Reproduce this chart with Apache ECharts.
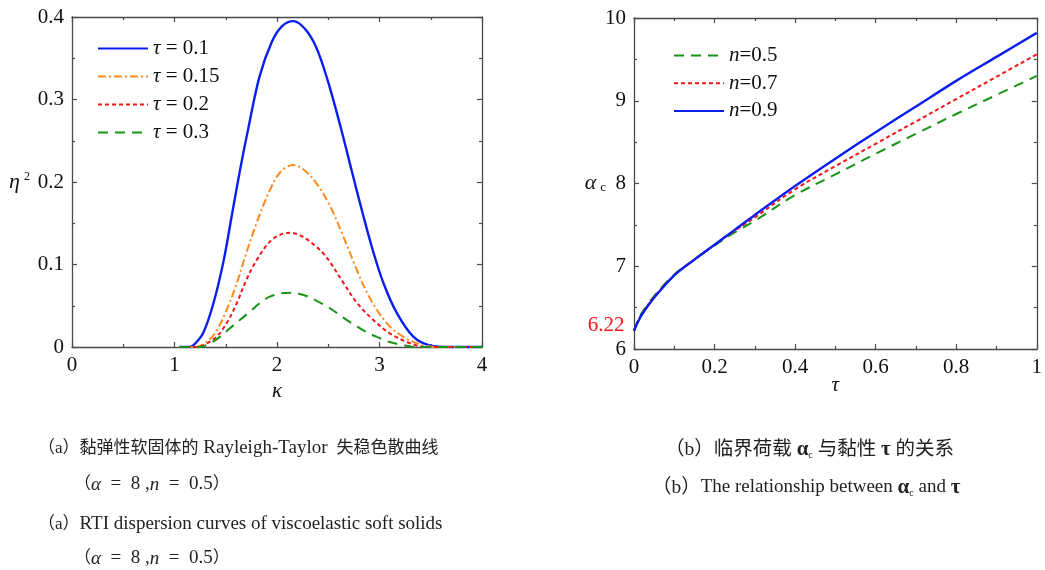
<!DOCTYPE html>
<html>
<head>
<meta charset="utf-8">
<script src="https://cdn.jsdelivr.net/npm/echarts@6/dist/echarts.min.js"></script>
<style>
  html, body { margin: 0; padding: 0; background: #fff; }
  #main { width: 1045px; height: 570px; }
</style>
</head>
<body>
<div id="main"></div>
<script>
// (a) dispersion curves, eta^2 vs kappa
const kappaT010 = [1.05, 1.15, 1.2, 1.28, 1.38, 1.48, 1.56, 1.64, 1.72, 1.83, 1.95, 2.05, 2.16, 2.27, 2.38, 2.49, 2.62, 2.73, 2.84, 2.94, 3.04, 3.17, 3.33, 3.49, 3.7, 4.0];
const eta2T010  = [0, 0, 0.004, 0.017, 0.053, 0.105, 0.16, 0.215, 0.265, 0.328, 0.37, 0.389, 0.395, 0.386, 0.364, 0.325, 0.267, 0.213, 0.16, 0.115, 0.077, 0.041, 0.0125, 0.002, 0, 0];
const kappaT015 = [1.05, 1.2, 1.3, 1.395, 1.509, 1.607, 1.7, 1.8, 1.93, 2.04, 2.16, 2.27, 2.387, 2.517, 2.647, 2.777, 2.907, 3.07, 3.23, 3.43, 3.6, 4.0];
const eta2T015  = [0, 0, 0.005, 0.0166, 0.045, 0.077, 0.1136, 0.15, 0.19, 0.213, 0.2206, 0.214, 0.198, 0.171, 0.134, 0.094, 0.059, 0.029, 0.0125, 0.002, 0, 0];
const kappaT020 = [1.05, 1.2, 1.28, 1.41, 1.509, 1.607, 1.7, 1.8, 1.93, 2.03, 2.127, 2.23, 2.34, 2.45, 2.517, 2.647, 2.777, 2.94, 3.1, 3.3, 3.45, 4.0];
const eta2T020  = [0, 0, 0.002, 0.0125, 0.029, 0.053, 0.081, 0.105, 0.1277, 0.136, 0.1386, 0.135, 0.126, 0.1136, 0.103, 0.078, 0.054, 0.0327, 0.0166, 0.0045, 0, 0];
const kappaT030 = [1.05, 1.25, 1.346, 1.44, 1.54, 1.64, 1.737, 1.83, 1.93, 2.04, 2.143, 2.26, 2.387, 2.517, 2.63, 2.745, 2.86, 2.97, 3.1, 3.23, 3.35, 4.0];
const eta2T030  = [0, 0, 0.0045, 0.012, 0.0226, 0.033, 0.0428, 0.053, 0.061, 0.065, 0.0658, 0.063, 0.056, 0.047, 0.037, 0.0275, 0.019, 0.0125, 0.006, 0.0024, 0, 0];

// (b) critical load alpha_c vs tau
const tauValues = [0, 0.01, 0.02, 0.05, 0.1, 0.15, 0.2, 0.25, 0.3, 0.4, 0.5, 0.6, 0.7, 0.8, 0.9, 1.0];
const alphaN05  = [6.22, 6.35, 6.44, 6.64, 6.90, 7.08, 7.25, 7.41, 7.55, 7.86, 8.11, 8.36, 8.60, 8.84, 9.07, 9.30];
const alphaN07  = [6.22, 6.34, 6.43, 6.63, 6.89, 7.08, 7.26, 7.43, 7.59, 7.93, 8.21, 8.48, 8.75, 9.02, 9.29, 9.56];
const alphaN09  = [6.22, 6.33, 6.42, 6.62, 6.89, 7.08, 7.26, 7.44, 7.62, 7.97, 8.30, 8.62, 8.93, 9.24, 9.53, 9.82];

const leftTicksX = [0, 4, 1];     // min, max, interval
const leftTicksY = [0, 0.4, 0.1];
const rightTicksX = [0, 1, 0.2];
const rightTicksY = [6, 10, 1];

const SERIF = "'Liberation Serif', 'Times New Roman', 'Noto Sans CJK SC', serif";
const BLUE = '#0a1ef0', ORANGE = '#ff8a1c', RED = '#f21717', GREEN = '#179417';
const AXIS = '#4a4a4a';
const EN = '\u2002';

const zip = (xs, ys) => xs.map((x, i) => [x, ys[i]]);

function axis(t, grid, pos, labels) {
  return {
    type: 'value', gridIndex: grid, position: pos,
    min: t[0], max: t[1], interval: t[2],
    axisLine: { onZero: false, lineStyle: { color: AXIS, width: 1.3 } },
    axisTick: { inside: true, length: 5, lineStyle: { color: AXIS, width: 1.2 } },
    minorTick: { show: true, splitNumber: 2, length: 3, lineStyle: { color: AXIS, width: 1.2 } },
    splitLine: { show: false },
    axisLabel: { show: labels, color: '#111', fontSize: 21, fontFamily: SERIF, margin: 8 }
  };
}

function curve(name, data, xi, yi, color, dash, width) {
  return {
    name, type: 'line', data, xAxisIndex: xi, yAxisIndex: yi,
    symbol: 'none', showSymbol: false, smooth: 0.35,
    lineStyle: { color, width: width || 2, type: dash }, itemStyle: { color },
    animation: false
  };
}

const italic = { fontStyle: 'italic', fontFamily: SERIF, fontSize: 21, color: '#111' };

const xNameLeft = axis(leftTicksX, 0, 'bottom', true);
Object.assign(xNameLeft, { name: 'κ', nameLocation: 'middle', nameGap: 34, nameMoveOverlap: false,
  nameTextStyle: { fontStyle: 'italic', fontFamily: SERIF, fontSize: 21, color: '#111' } });
const yNameLeft = axis(leftTicksY, 0, 'left', true);
Object.assign(yNameLeft, { name: '{i|η}{s|2}', nameLocation: 'middle', nameRotate: 0, nameGap: 42, nameMoveOverlap: false,
  nameTextStyle: { rich: {
    i: { fontStyle: 'italic', fontFamily: SERIF, fontSize: 22, color: '#111', lineHeight: 22 },
    s: { fontFamily: SERIF, fontSize: 12, color: '#111', verticalAlign: 'top', lineHeight: 12, padding: [0, 0, 0, 4] } } } });

const xNameRight = axis(rightTicksX, 1, 'bottom', true);
Object.assign(xNameRight, { name: 'τ', nameLocation: 'middle', nameGap: 26, nameMoveOverlap: false,
  nameTextStyle: { fontStyle: 'italic', fontFamily: SERIF, fontSize: 21, color: '#111' } });
const yNameRight = axis(rightTicksY, 1, 'left', true);
Object.assign(yNameRight, { name: '{i|α}{s|c}', nameLocation: 'middle', nameRotate: 0, nameGap: 28, nameMoveOverlap: false,
  nameTextStyle: { rich: {
    i: { fontStyle: 'italic', fontFamily: SERIF, fontSize: 22, color: '#111', lineHeight: 22 },
    s: { fontFamily: SERIF, fontSize: 13, color: '#111', verticalAlign: 'bottom', lineHeight: 12, padding: [0, 0, 0, 4] } } } });

const captionRich = {
  c: { fontFamily: SERIF, fontSize: 17, fill: '#222', lineHeight: 22 },
  cb: { fontFamily: SERIF, fontSize: 19.5, fill: '#222', lineHeight: 22 },
  i: { fontStyle: 'italic', fontFamily: SERIF, fontSize: 19, fill: '#222', lineHeight: 22 },
  g: { fontWeight: 'bold', fontFamily: SERIF, fontSize: 21, fill: '#222', lineHeight: 22 },
  sub: { fontFamily: SERIF, fontSize: 10, fill: '#222', verticalAlign: 'bottom', lineHeight: 12 }
};
function caption(x, y, text) {
  return { type: 'text', left: x, top: y - 11, style: {
    text, fontFamily: SERIF, fontSize: 19, fill: '#222', rich: captionRich } };
}
const paramLine = '{c|（}{i|α}' + EN + '=' + EN + '8 ,{i|n}' + EN + '=' + EN + '0.5{c|）}';

const option = {
  backgroundColor: '#fff',
  animation: false,
  grid: [
    { left: 72, top: 17, width: 410, height: 330 },
    { left: 634, top: 18, width: 409, height: 331 }
  ],
  xAxis: [
    xNameLeft,
    axis(leftTicksX, 0, 'top', false),
    xNameRight,
    axis(rightTicksX, 1, 'top', false)
  ],
  yAxis: [
    yNameLeft,
    axis(leftTicksY, 0, 'right', false),
    yNameRight,
    axis(rightTicksY, 1, 'right', false)
  ],
  legend: [
    {
      data: ['τ = 0.1', 'τ = 0.15', 'τ = 0.2', 'τ = 0.3'],
      orient: 'vertical', left: 97, top: 38, padding: 0,
      itemWidth: 50, itemHeight: 14, itemGap: 7,
      itemStyle: { opacity: 0 },
      textStyle: { fontFamily: SERIF, fontSize: 21, color: '#111', lineHeight: 20, rich: { i: italic } },
      formatter: n => '{i|τ}' + n.slice(1)
    },
    {
      data: ['n=0.5', 'n=0.7', 'n=0.9'],
      orient: 'vertical', left: 673, top: 45, padding: 0,
      itemWidth: 50, itemHeight: 14, itemGap: 6.7,
      itemStyle: { opacity: 0 },
      textStyle: { fontFamily: SERIF, fontSize: 21, color: '#111', lineHeight: 20, rich: { i: italic } },
      formatter: n => '{i|n}' + n.slice(1)
    }
  ],
  series: [
    curve('τ = 0.1', zip(kappaT010, eta2T010), 0, 0, BLUE, 'solid', 2.4),
    curve('τ = 0.15', zip(kappaT015, eta2T015), 0, 0, ORANGE, [8, 3, 2, 3]),
    curve('τ = 0.2', zip(kappaT020, eta2T020), 0, 0, RED, [4, 3]),
    curve('τ = 0.3', zip(kappaT030, eta2T030), 0, 0, GREEN, [10, 7]),
    curve('n=0.5', zip(tauValues, alphaN05), 2, 2, GREEN, [10, 7]),
    curve('n=0.7', zip(tauValues, alphaN07), 2, 2, RED, [4, 3]),
    Object.assign(curve('n=0.9', zip(tauValues, alphaN09), 2, 2, BLUE, 'solid', 2.4), {
      markPoint: {
        symbol: 'rect', symbolSize: 1, itemStyle: { color: 'rgba(0,0,0,0)' },
        data: [{ coord: [tauValues[0], alphaN09[0]] }],
        label: { show: true, position: 'left', distance: 9, offset: [0, -5],
          formatter: String(alphaN09[0]), color: RED, fontSize: 21, fontFamily: SERIF }
      }
    })
  ],
  graphic: [
    caption(38, 450, '{c|（a）黏弹性软固体的} Rayleigh-Taylor {c| 失稳色散曲线}'),
    caption(74, 486, paramLine),
    caption(38, 526, '{c|（a）}RTI dispersion curves of viscoelastic soft solids'),
    caption(74, 560, paramLine),
    caption(665, 450, '{cb|（b）临界荷载 }{g|α}{sub|c}{cb| 与黏性 }{g|τ}{cb| 的关系}'),
    caption(652, 488, '{cb|（b）}The relationship between {g|α}{sub|c} and {g|τ}')
  ]
};

const chart = echarts.init(document.getElementById('main'));
chart.setOption(option);
</script>
</body>
</html>
